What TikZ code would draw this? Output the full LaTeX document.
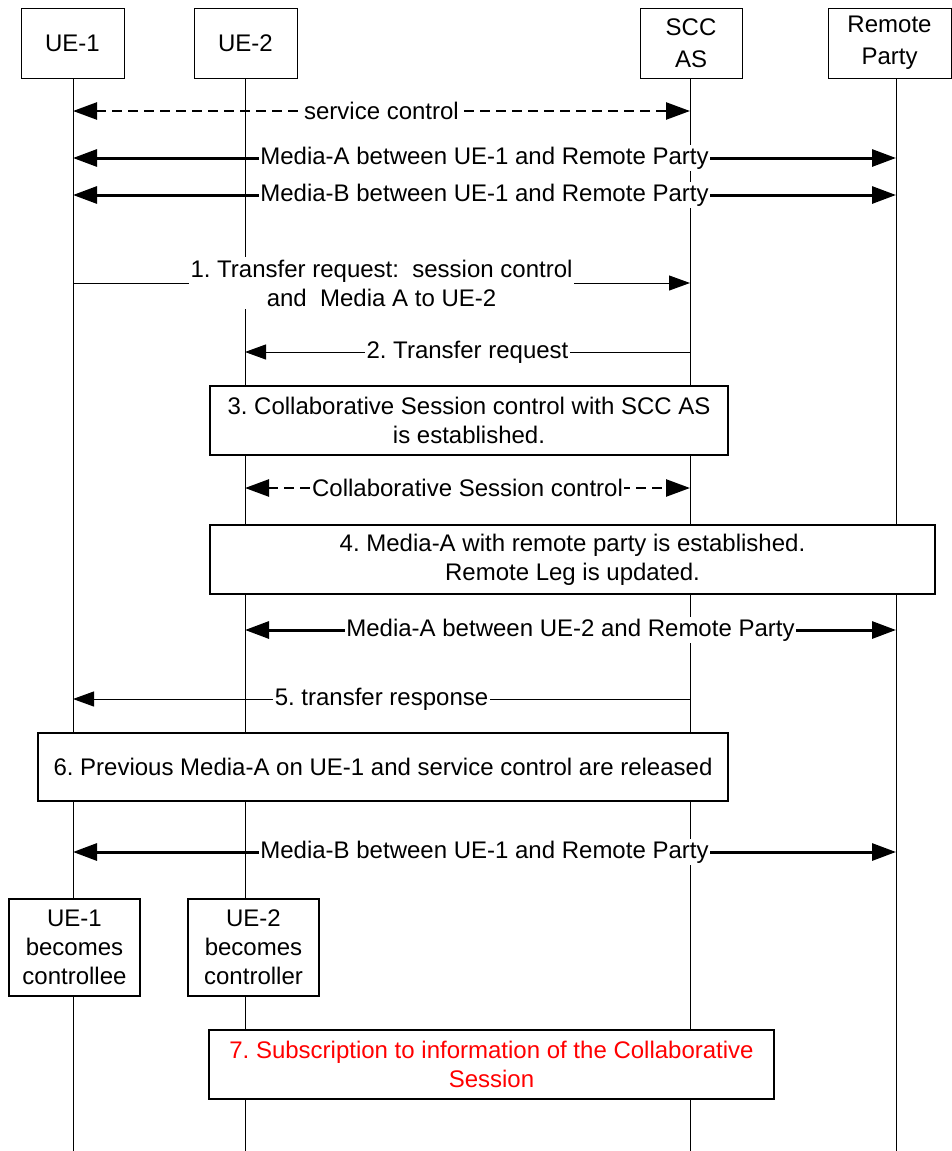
\documentclass[tikz,border=0pt]{standalone}
\usepackage{fontspec}
\setmainfont{Liberation Sans}
\usetikzlibrary{arrows.meta}
\definecolor{txtred}{RGB}{255,0,0}
\frenchspacing
\begin{document}
\begin{tikzpicture}[x=1pt,y=-1pt,
  every node/.style={font=\fontsize{24}{29}\selectfont},
  hdr/.style={draw, line width=1pt, fill=white, inner sep=0pt, align=center},
  stepbox/.style={draw, line width=1.3pt, fill=white, inner sep=0pt, align=center},
  life/.style={line width=1pt},
  lbl/.style={fill=white, inner xsep=1.5pt, inner ysep=2pt, align=center},
  thinmsg/.style={line width=1pt, -{Triangle[length=21pt,width=15pt]}},
  media/.style={line width=3pt,
    {Triangle[length=24pt,width=17pt]}-{Triangle[length=24pt,width=17pt]}},
  ctrl/.style={line width=2.5pt, dash pattern=on 10pt off 6pt,
    {Triangle[length=24pt,width=17pt]}-{Triangle[length=24pt,width=17pt]}}
]
\useasboundingbox (0,0) rectangle (952,1151);

% lifeline positions
\coordinate (L1) at (73,78);
\coordinate (L2) at (245,78);
\coordinate (L3) at (690,78);
\coordinate (L4) at (896,78);

% lifelines
\foreach \l in {L1,L2,L3,L4}
  \draw[life] (\l) -- (\l |- 0,1151);

% participants
\node[hdr, minimum width=103pt, minimum height=70pt] (ue1) at (72.5,43) {UE-1};
\node[hdr, minimum width=103pt, minimum height=70pt] (ue2) at (245.5,43) {UE-2};
\node[hdr, minimum width=102pt, minimum height=70pt] (scc) at (691,43) {SCC\\[3pt]AS};
\node[hdr, minimum width=123pt, minimum height=70pt] (rp) at (889.5,43) {Remote\\[3pt]Party};

% initial sessions
\draw[ctrl] (L1 |- 0,111) -- node[lbl] (t0) {service control} (L3 |- 0,111);
\draw[media] (L1 |- 0,158) -- node[lbl] (ma1) {Media-A between UE-1 and Remote Party} (L4 |- 0,158);
\draw[media] (L1 |- 0,195) -- node[lbl] (mb1) {Media-B between UE-1 and Remote Party} (L4 |- 0,195);

% step 1 and 2
\draw[thinmsg] (L1 |- 0,283) -- node[lbl, inner ysep=3pt] (t1)
  {1. Transfer request:\ \ session control\\and\ \ Media A to UE-2} (L3 |- 0,283);
\draw[thinmsg] (L3 |- 0,352) -- node[lbl] (t2) {2. Transfer request} (L2 |- 0,352);

% step 3
\node[stepbox, minimum width=518pt, minimum height=69pt] (s3) at (469,420.5)
  {3. Collaborative Session control with SCC AS\\is established.};
\draw[ctrl] (L2 |- 0,488) -- node[lbl] (tc) {Collaborative Session control} (L3 |- 0,488);

% step 4
\node[stepbox, minimum width=725pt, minimum height=69pt] (s4) at (572.5,559.5)
  {4. Media-A with remote party is established.\\Remote Leg is updated.};
\draw[media] (L2 |- 0,630) -- node[lbl] (ma2) {Media-A between UE-2 and Remote Party} (L4 |- 0,630);

% step 5
\draw[thinmsg] (L3 |- 0,699) -- node[lbl] (t5) {5. transfer response} (L1 |- 0,699);

% step 6
\node[stepbox, minimum width=690pt, minimum height=68pt] (s6) at (383,767)
  {6. Previous Media-A on UE-1 and service control are released};
\draw[media] (L1 |- 0,852) -- node[lbl] (mb2) {Media-B between UE-1 and Remote Party} (L4 |- 0,852);

% new roles
\node[stepbox, minimum width=131pt, minimum height=97pt] (r1) at (74.5,947.5)
  {UE-1\\becomes\\controllee};
\node[stepbox, minimum width=131pt, minimum height=97pt] (r2) at (253.5,947.5)
  {UE-2\\becomes\\controller};

% step 7
\node[stepbox, minimum width=565pt, minimum height=69pt, text=txtred] (s7) at (491.5,1064.5)
  {7. Subscription to information of the Collaborative\\Session};
\end{tikzpicture}
\end{document}
